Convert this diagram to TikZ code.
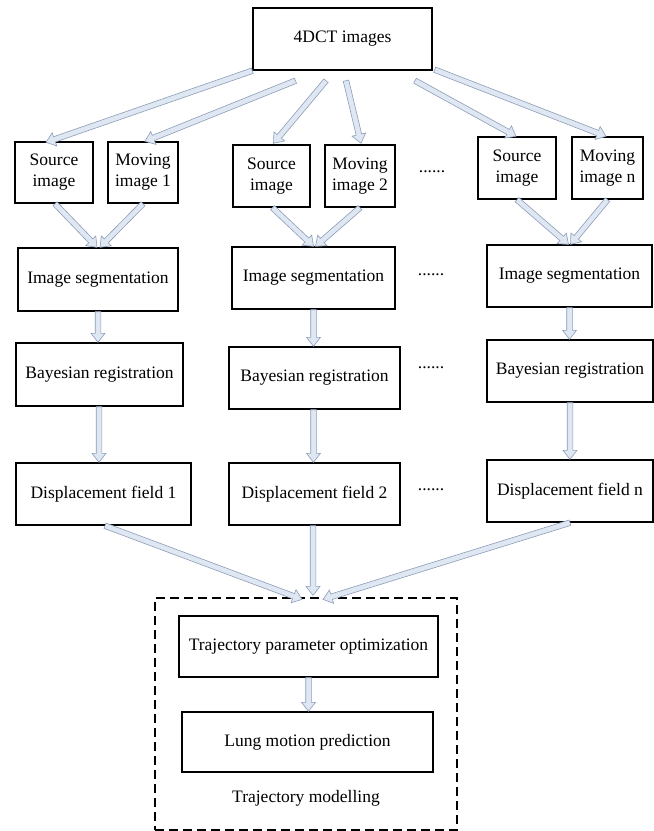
\documentclass[tikz,border=0pt]{standalone}
\usepackage{fontspec}
\setmainfont{Liberation Serif}
\usetikzlibrary{calc}
\definecolor{arrfill}{RGB}{223,231,242}
\definecolor{arrline}{RGB}{140,157,185}
\tikzset{
  box/.style={draw=black, line width=1.4pt, inner sep=0pt, align=center,
    font=\fontsize{17.5}{21}\selectfont},
  dotsstyle/.style={inner sep=0pt, font=\fontsize{17.5}{21}\selectfont},
  blockarrow/.style={fill=arrfill, draw=arrline, line width=0.6pt, line join=miter},
}
\newcommand{\barrow}[2]{%
  \coordinate (barS) at #1;
  \coordinate (barT) at #2;
  \coordinate (barC) at ($(barT)!9pt!(barS)$);
  \filldraw[blockarrow] ($(barS)!2.8pt!90:(barT)$) -- ($(barC)!2.8pt!90:(barT)$) -- ($(barC)!7pt!90:(barT)$) -- (barT) -- ($(barC)!7pt!-90:(barT)$) -- ($(barC)!2.8pt!-90:(barT)$) -- ($(barS)!2.8pt!-90:(barT)$) -- cycle;}
\begin{document}
\begin{tikzpicture}[x=1pt,y=-1pt]
\useasboundingbox (0,0) rectangle (654,831);
% top
\node[box, minimum width=179, minimum height=62] (dct) at (342.5,39) {4DCT images};
% row 2
\node[box, minimum width=78, minimum height=61] (src1) at (54,172.5) {Source\\image};
\node[box, minimum width=70, minimum height=61] (mov1) at (143,172.5) {Moving\\image 1};
\node[box, minimum width=77, minimum height=62] (src2) at (271.5,176) {Source\\image};
\node[box, minimum width=70, minimum height=62] (mov2) at (360,176) {Moving\\image 2};
\node[box, minimum width=78, minimum height=62] (srcn) at (517,168) {Source\\image};
\node[box, minimum width=71, minimum height=62] (movn) at (607.5,168) {Moving\\image n};
\node[dotsstyle] (d1) at (432,172) {......};
% segmentation
\node[box, minimum width=160, minimum height=63] (seg1) at (98,279.5) {Image segmentation};
\node[box, minimum width=163, minimum height=62] (seg2) at (313.5,278) {Image segmentation};
\node[box, minimum width=165, minimum height=62] (segn) at (569.5,276) {Image segmentation};
\node[dotsstyle] (d2) at (431,275) {......};
% registration
\node[box, minimum width=167, minimum height=63] (bay1) at (99.5,374.5) {Bayesian registration};
\node[box, minimum width=171, minimum height=62] (bay2) at (314.5,378) {Bayesian registration};
\node[box, minimum width=166, minimum height=62] (bayn) at (570,371) {Bayesian registration};
\node[dotsstyle] (d3) at (431,368) {......};
% displacement
\node[box, minimum width=175, minimum height=62] (disp1) at (103.5,494) {Displacement field 1};
\node[box, minimum width=171, minimum height=62] (disp2) at (314.5,494) {Displacement field 2};
\node[box, minimum width=166, minimum height=62] (dispn) at (570,491) {Displacement field n};
\node[dotsstyle] (d4) at (431,490) {......};
% trajectory modelling
\node[draw=black, line width=1.3pt, dash pattern=on 9pt off 5pt, minimum width=302, minimum height=232, inner sep=0pt] (tm) at (306,714) {};
\node[box, minimum width=259, minimum height=61] (traj) at (308.5,646.5) {Trajectory parameter optimization};
\node[box, minimum width=251, minimum height=60] (lung) at (307.5,742) {Lung motion prediction};
\node[dotsstyle] (tml) at (306,798) {Trajectory modelling};
% arrows from 4DCT
\barrow{(dct.south west)}{($(src1.north)+(-8,1)$)}
\barrow{($(dct.south)+(-47,10)$)}{($(mov1.north)+(2,0)$)}
\barrow{($(dct.south)+(-16.5,10)$)}{($(src2.north)+(2,-1)$)}
\barrow{($(dct.south)+(3.5,10)$)}{($(mov2.north)+(1,-1)$)}
\barrow{($(dct.south)+(72.5,10)$)}{($(srcn.north)+(-1,0)$)}
\barrow{($(dct.south east)+(2,-1)$)}{($(movn.north)+(-1.5,0)$)}
% to segmentation
\barrow{($(src1.south)+(1,0)$)}{($(seg1.north)+(-1,0)$)}
\barrow{(mov1.south)}{($(seg1.north)+(2,0)$)}
\barrow{($(src2.south)+(1,0)$)}{($(seg2.north)+(0,0)$)}
\barrow{(mov2.south)}{($(seg2.north)+(2,0)$)}
\barrow{(srcn.south)}{($(segn.north)+(-1,0)$)}
\barrow{(movn.south)}{($(segn.north)+(1,0)$)}
% vertical
\barrow{(seg1.south)}{(seg1.south |- bay1.north)}
\barrow{(seg2.south)}{(seg2.south |- bay2.north)}
\barrow{(segn.south)}{(segn.south |- bayn.north)}
\barrow{($(bay1.south)+(-0.5,0)$)}{($(bay1.south |- disp1.north)+(-0.5,0)$)}
\barrow{($(bay2.south)+(-1,0)$)}{($(bay2.south |- disp2.north)+(-1,0)$)}
\barrow{(bayn.south)}{(bayn.south |- dispn.north)}
% to trajectory modelling
\barrow{($(disp1.south)+(1.5,0)$)}{($(tm.north)+(-4,2)$)}
\barrow{($(disp2.south)+(-1.5,0)$)}{($(disp2.south |- tm.north)+(-1.5,-2)$)}
\barrow{(dispn.south)}{($(tm.north)+(17,2)$)}
\barrow{(traj.south)}{(traj.south |- lung.north)}
\end{tikzpicture}
\end{document}
